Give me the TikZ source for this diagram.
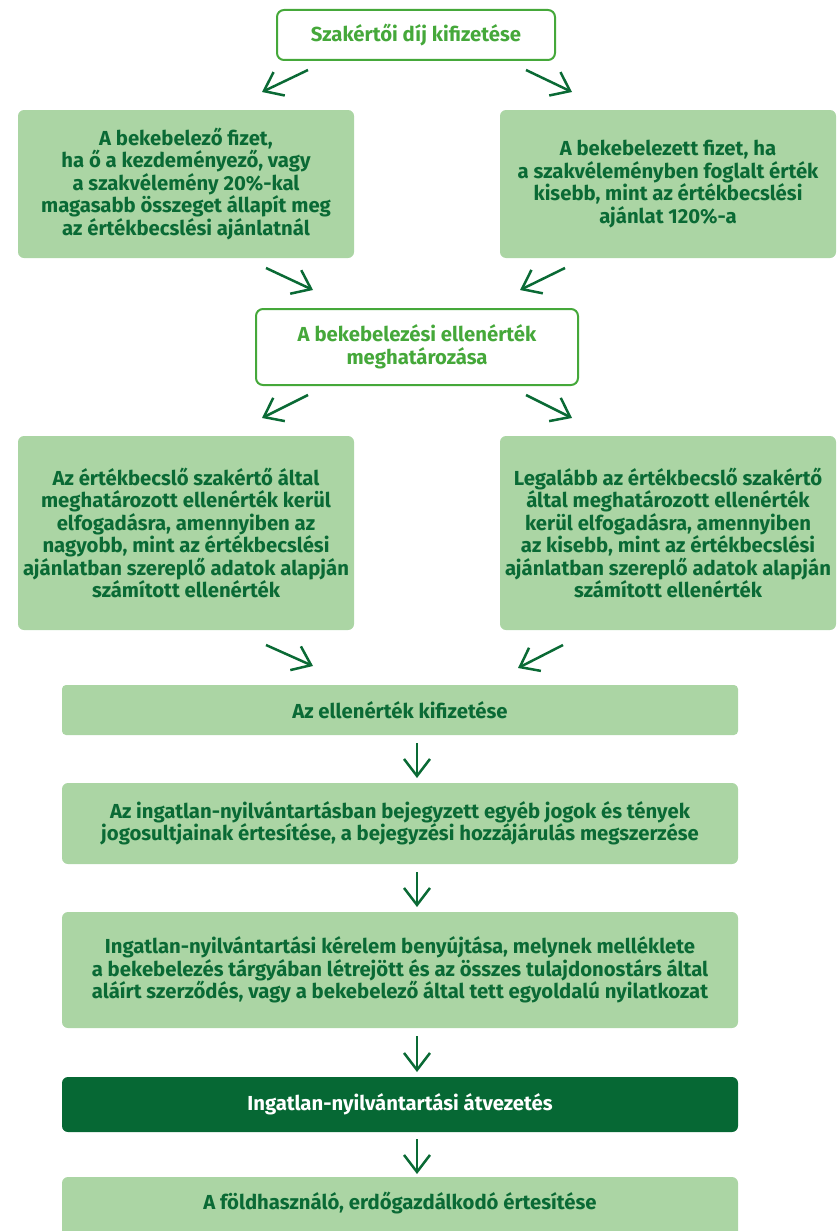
\documentclass[tikz,border=0pt]{standalone}
\usepackage{fontspec}
\setmainfont{Fira Sans}
\usetikzlibrary{arrows.meta}
\definecolor{lightg}{HTML}{ABD5A4}
\definecolor{darkg}{HTML}{0A6A35}
\definecolor{brightg}{HTML}{45A83A}
\definecolor{boxdark}{HTML}{066834}
\begin{document}
\begin{tikzpicture}[x=1pt,y=-1pt,
  txt/.style={font=\fontsize{20.3}{22.5}\selectfont\bfseries, align=center, inner sep=0pt},
  fillbox/.style={txt, fill=lightg, text=darkg, rounded corners=6pt},
  outbox/.style={txt, draw=brightg, line width=2pt, fill=white, text=brightg, rounded corners=7pt},
  darkbox/.style={txt, fill=boxdark, text=white, rounded corners=6pt},
  arr/.style={draw=darkg, line width=2.5pt, -{Straight Barb[length=17pt,width=26pt,line width=2.5pt]}}
]
\useasboundingbox (0,0) rectangle (837,1231);

\node[outbox, minimum width=278pt, minimum height=50pt] (top) at (416,35) {Szakértői díj kifizetése};

\node[fillbox, minimum width=336pt, minimum height=148pt] (l1) at (186,184)
 {A bekebelező fizet,\\ ha ő a kezdeményező, vagy\\ a szakvélemény 20\%-kal\\ magasabb összeget állapít meg\\ az értékbecslési ajánlatnál};
\node[fillbox, minimum width=336pt, minimum height=148pt] (r1) at (668,184)
 {A bekebelezett fizet, ha\\ a szakvéleményben foglalt érték\\ kisebb, mint az értékbecslési\\ ajánlat 120\%-a};

\node[outbox, minimum width=322pt, minimum height=76pt] (mid) at (417,347)
 {A bekebelezési ellenérték\\ meghatározása};

\node[fillbox, minimum width=336pt, minimum height=194pt] (l2) at (186,533)
 {Az értékbecslő szakértő által\\ meghatározott ellenérték kerül\\ elfogadásra, amennyiben az\\ nagyobb, mint az értékbecslési\\ ajánlatban szereplő adatok alapján\\ számított ellenérték};
\node[fillbox, minimum width=336pt, minimum height=194pt] (r2) at (668,533)
 {Legalább az értékbecslő szakértő\\ által meghatározott ellenérték\\ kerül elfogadásra, amennyiben\\ az kisebb, mint az értékbecslési\\ ajánlatban szereplő adatok alapján\\ számított ellenérték};

\node[fillbox, rounded corners=4pt, minimum width=676pt, minimum height=50pt] (b1) at (400,710) {Az ellenérték kifizetése};
\node[fillbox, minimum width=676pt, minimum height=81pt] (b2) at (400,823.5)
 {Az ingatlan-nyilvántartásban bejegyzett egyéb jogok és tények\\ jogosultjainak értesítése, a bejegyzési hozzájárulás megszerzése};
\node[fillbox, minimum width=676pt, minimum height=116pt] (b3) at (400,970)
 {Ingatlan-nyilvántartási kérelem benyújtása, melynek melléklete\\ a bekebelezés tárgyában létrejött és az összes tulajdonostárs által\\ aláírt szerződés, vagy a bekebelező által tett egyoldalú nyilatkozat};
\node[darkbox, minimum width=676pt, minimum height=55pt] (b4) at (400,1104.5) {Ingatlan-nyilvántartási átvezetés};
\fill[lightg, rounded corners=6pt] (62,1177) rectangle (738,1250);
\node[txt, text=darkg] (b5) at (400,1203) {A földhasználó, erdőgazdálkodó értesítése};

% arrow end points
\coordinate (a1s) at (308,70);  \coordinate (a1e) at (262,92);
\coordinate (a2s) at (526,70);  \coordinate (a2e) at (572,92);
\coordinate (a3s) at (266,268); \coordinate (a3e) at (313,290);
\coordinate (a4s) at (565,268); \coordinate (a4e) at (520,290);
\coordinate (a5s) at (308,395); \coordinate (a5e) at (262,418);
\coordinate (a6s) at (526,395); \coordinate (a6e) at (572,418);
\coordinate (a7s) at (266,645); \coordinate (a7e) at (313,666);
\coordinate (a8s) at (563,645); \coordinate (a8e) at (518,668);
\coordinate (d1s) at (417,743);  \coordinate (d1e) at (417,778);
\coordinate (d2s) at (417,872);  \coordinate (d2e) at (417,907);
\coordinate (d3s) at (417,1036); \coordinate (d3e) at (417,1072);
\coordinate (d4s) at (417,1139); \coordinate (d4e) at (417,1174);

\foreach \a in {a1,a2,a3,a4,a5,a6,a7,a8,d1,d2,d3,d4}
  \draw[arr] (\a s) -- (\a e);
\end{tikzpicture}
\end{document}
